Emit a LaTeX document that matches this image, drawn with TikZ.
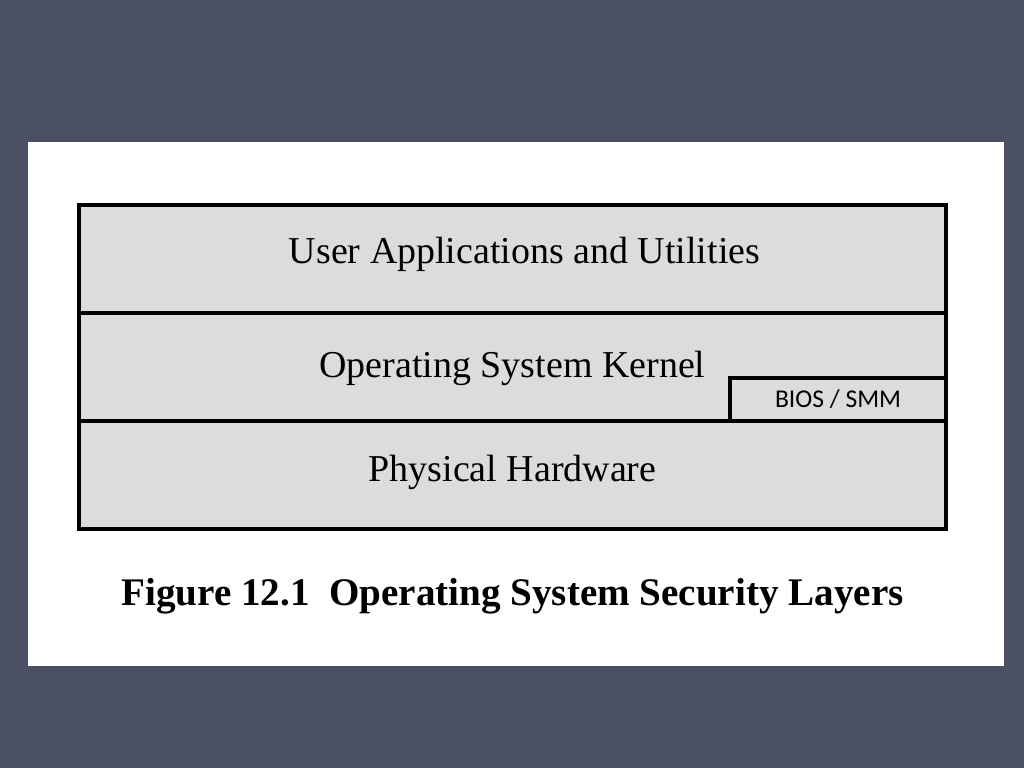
\documentclass[tikz,border=0pt]{standalone}
\usepackage{fontspec}
\setmainfont{Liberation Serif}
\newfontfamily\biosfont{Carlito}
\usetikzlibrary{positioning}
\definecolor{slate}{HTML}{4A4F63}
\definecolor{layergray}{HTML}{DCDCDC}

\begin{document}
\begin{tikzpicture}[x=0.025cm, y=-0.025cm,
    layer/.style={draw, line width=2.6pt, fill=layergray, outer sep=0pt,
      inner sep=0pt, minimum width=21.675cm, minimum height=2.7cm},
    bios/.style={draw, line width=2.6pt, fill=layergray, outer sep=0pt,
      inner sep=0pt, minimum width=5.4cm, minimum height=1.075cm,
      font=\biosfont\fontsize{18.2}{21}\selectfont},
    layertext/.style={font=\fontsize{27}{32}\selectfont}]

    % background and panel
    \fill [slate] (0,0) rectangle (1024,768);
    \fill [white] (28,142) rectangle (1004,666);

    \node [layer] (user) at (512.5,259) {};
    \node [layer, below=0pt of user] (kernel) {};
    \node [layer, below=0pt of kernel] (hardware) {};
    \node [bios, anchor=south east] (bios) at (kernel.south east) {BIOS / SMM};

    \node [layertext] (usertext) at (524.5,254) {User Applications and Utilities};
    \node [layertext] (kerneltext) at (512.5,368) {Operating System Kernel};
    \node [layertext] (hardwaretext) at (512.5,472) {Physical Hardware};

    \node [font=\bfseries\fontsize{27.8}{33}\selectfont] (caption) at (512.5,596)
      {Figure 12.1\ \ Operating System Security Layers};

  \end{tikzpicture}
\end{document}
